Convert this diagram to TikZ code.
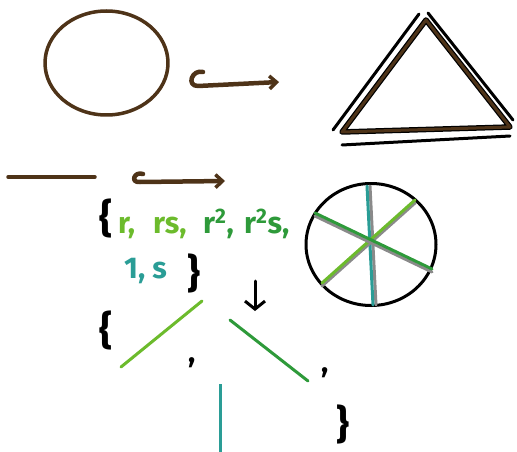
\documentclass[tikz,border=0pt]{standalone}
\usepackage{fontspec}
\setmainfont{Fira Sans}
\usetikzlibrary{arrows.meta}
\definecolor{brn}{HTML}{4E3318}
\definecolor{lgr}{HTML}{6CBB2C}
\definecolor{dgr}{HTML}{2E9A3A}
\definecolor{tea}{HTML}{2A9D96}
\definecolor{gry}{HTML}{8A8A8A}
\tikzset{
  brstroke/.style={draw=brn, line width=3.5pt, line cap=round, line join=round},
  hookarrow/.style={draw=brn, line width=4.5pt, line cap=round, line join=round, -{Straight Barb[length=7pt,width=13pt,line width=3.5pt]}},
  blstroke/.style={draw=black, line width=3pt, line cap=round},
  seg/.style={line width=3pt, line cap=round},
  txt/.style={inner sep=0pt, anchor=base west, font=\fontsize{30}{30}\selectfont\bfseries},
  brace/.style={inner sep=0pt, font=\fontsize{40}{40}\selectfont\bfseries},
}
\begin{document}
\begin{tikzpicture}[x=1pt,y=-1pt]
\useasboundingbox (0,0) rectangle (517,452);
% top-left ellipse
\draw[brstroke] (106.5,63) ellipse [x radius=61.5, y radius=52];
% hook arrow 1
\coordinate (h1s) at (203,72);
\coordinate (h1e) at (279,82);
\draw[hookarrow] (h1s) .. controls (192,69) and (186,86) .. (198,86) -- (h1e);
% triangle
\coordinate (tA) at (426,20);
\coordinate (tB) at (342,132);
\coordinate (tC) at (510,127);
\draw[draw=black, line width=5.5pt, line join=round] (tA) -- (tB) -- (tC) -- cycle;
\draw[draw=brn, line width=3pt, line join=round] (tA) -- (tB) -- (tC) -- cycle;
\coordinate (l1a) at (333,130); \coordinate (l1b) at (419,14);
\coordinate (l2a) at (428,13); \coordinate (l2b) at (513,120);
\coordinate (l3a) at (342,145); \coordinate (l3b) at (510,136);
\draw[blstroke] (l1a) -- (l1b);
\draw[blstroke] (l2a) -- (l2b);
\draw[blstroke] (l3a) -- (l3b);
% brown segment and hook arrow 2
\coordinate (sa) at (8,177); \coordinate (sb) at (95,177);
\draw[brstroke] (sa) -- (sb);
\coordinate (h2s) at (143,174);
\coordinate (h2e) at (225,181);
\draw[hookarrow] (h2s) .. controls (134,171) and (130,183) .. (140,182) -- (h2e);
% set of elements
\node[brace] (ob1) at (106,218) {\{};
\node[txt, text=lgr] (e1) at (118,233) {r,};
\node[txt, text=lgr] (e2) at (153,233) {rs,};
\node[txt, text=dgr] (e3) at (203,233) {r\textsuperscript{2},};
\node[txt, text=dgr] (e4) at (244,233) {r\textsuperscript{2}s,};
\node[txt, text=tea] (e5) at (124,278) {1, s};
\node[brace] (cb1) at (194,273) {\}};
% down arrow
\coordinate (da) at (255,281);
\coordinate (db) at (255,311);
\draw[blstroke, -{Straight Barb[length=8pt,width=20pt,line width=3pt]}] (da) -- (db);
% circle with axes
\draw[draw=black, line width=3pt] (371,244.5) ellipse [x radius=65, y radius=61];
\draw[seg, draw=gry] (370,186) -- (376,305);
\draw[seg, draw=tea] (367,186) -- (373,305);
\draw[seg, draw=gry] (415,203) -- (322,286);
\draw[seg, draw=lgr] (415,200) -- (322,283);
\draw[seg, draw=gry] (315,216) -- (432,272);
\draw[seg, draw=dgr] (315,213) -- (432,269);
% bottom set
\node[brace] (ob2) at (106,330) {\{};
\coordinate (g1a) at (202,301); \coordinate (g1b) at (121,367);
\draw[seg, draw=lgr] (g1a) -- (g1b);
\node[txt] (c1) at (188,362) {,};
\coordinate (g2a) at (230,320); \coordinate (g2b) at (308,381);
\draw[seg, draw=dgr] (g2a) -- (g2b);
\node[txt] (c2) at (321,372) {,};
\coordinate (g3a) at (220,384); \coordinate (g3b) at (220,452);
\draw[seg, draw=tea, line cap=butt] (g3a) -- (g3b);
\node[brace] (cb2) at (343,424) {\}};
\end{tikzpicture}
\end{document}
